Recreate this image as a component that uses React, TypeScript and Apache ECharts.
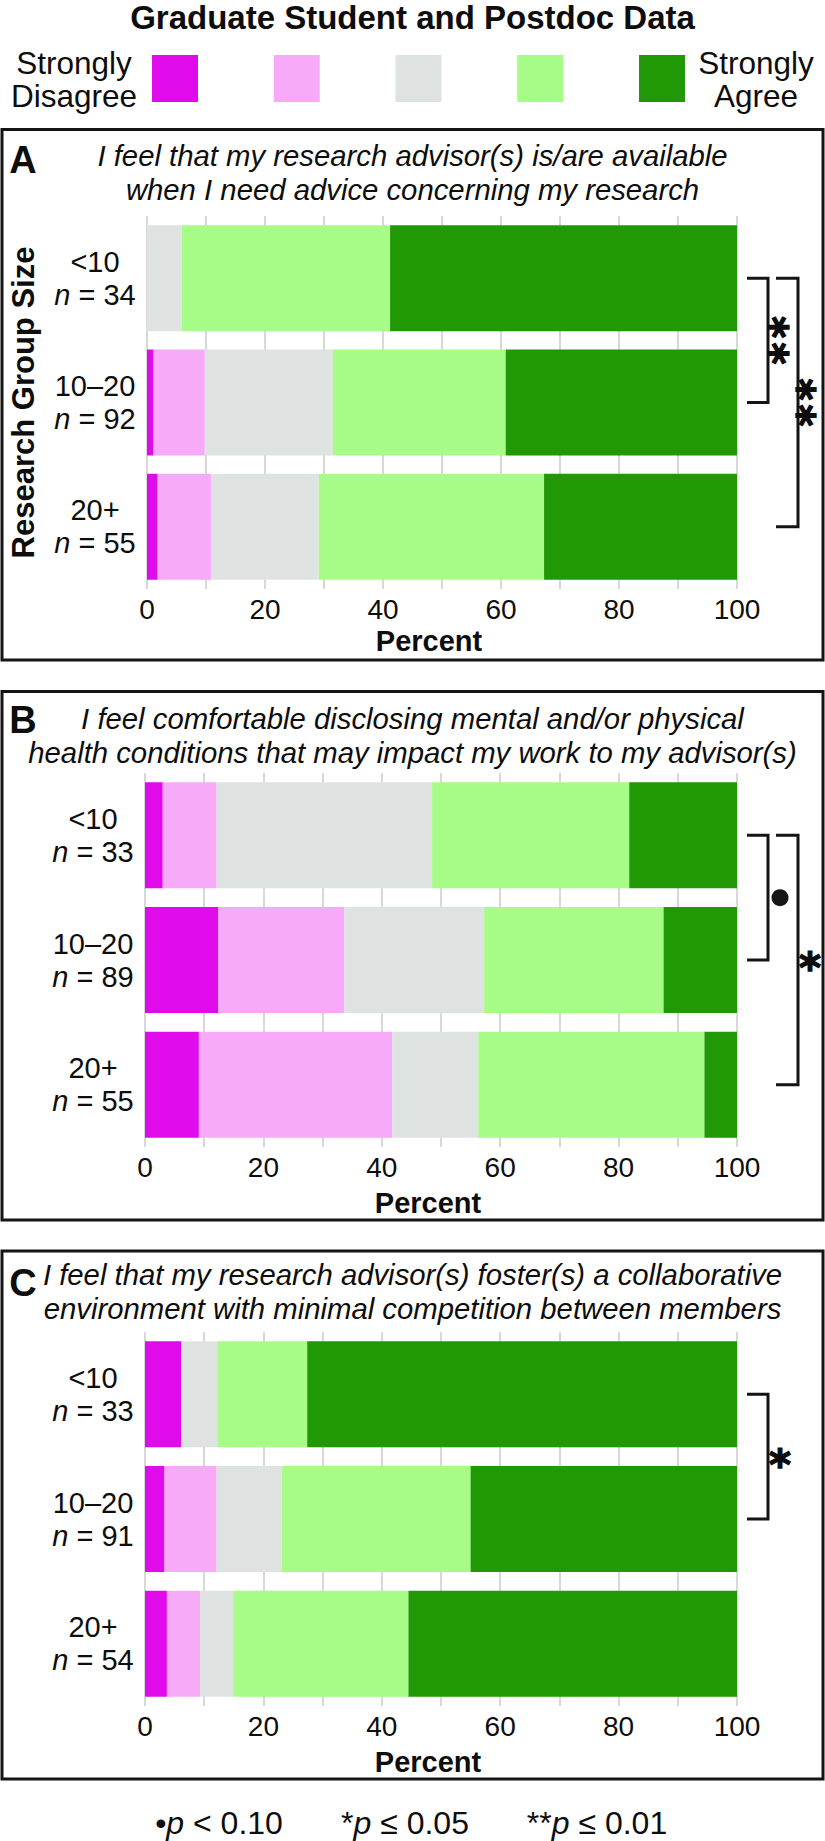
import React, { useEffect, useRef } from "react";
import * as echarts from "echarts";

// ---------- data ----------
const categories = ["<10", "10–20", "20+"];
const responseLevels = ["Strongly Disagree", "Disagree", "Neutral", "Agree", "Strongly Agree"];
const levelColors = ["#E00BEB", "#F7AAF7", "#DEE2E0", "#A6FC86", "#219805"];
const xTickLabels = [0, 20, 40, 60, 80, 100];

// Panel A: advisor available (percent of respondents, groups <10, 10–20, 20+)
const nA = [34, 92, 55];
const aStronglyDisagree = [0, 1.1, 1.8];
const aDisagree = [0, 8.7, 9.1];
const aNeutral = [5.9, 21.7, 18.2];
const aAgree = [35.3, 29.3, 38.2];
const aStronglyAgree = [58.8, 39.2, 32.7];

// Panel B: comfortable disclosing health conditions
const nB = [33, 89, 55];
const bStronglyDisagree = [3.0, 12.4, 9.1];
const bDisagree = [9.1, 21.3, 32.7];
const bNeutral = [36.4, 23.6, 14.5];
const bAgree = [33.3, 30.3, 38.2];
const bStronglyAgree = [18.2, 12.4, 5.5];

// Panel C: collaborative environment
const nC = [33, 91, 54];
const cStronglyDisagree = [6.1, 3.3, 3.7];
const cDisagree = [0, 8.8, 5.6];
const cNeutral = [6.1, 11.0, 5.6];
const cAgree = [15.2, 31.9, 29.6];
const cStronglyAgree = [72.6, 45.0, 55.5];

const panelLetters = ["A", "B", "C"];
const panelTitles = [
  "I feel that my research advisor(s) is/are available\nwhen I need advice concerning my research",
  "I feel comfortable disclosing mental and/or physical\nhealth conditions that may impact my work to my advisor(s)",
  "I feel that my research advisor(s) foster(s) a collaborative\nenvironment with minimal competition between members",
];

// significance brackets: category index from/to, mark, nesting level
const sigA = [
  { from: 0, to: 1, mark: "**", level: 0 },
  { from: 0, to: 2, mark: "**", level: 1 },
];
const sigB = [
  { from: 0, to: 1, mark: "•", level: 0 },
  { from: 0, to: 2, mark: "*", level: 1 },
];
const sigC = [{ from: 0, to: 1, mark: "*", level: 0 }];

const legendLeftLines = ["Strongly", "Disagree"];
const legendRightLines = ["Strongly", "Agree"];
const footnotes = ["{r|•}{i|p}{r| < 0.10}", "{r|*}{i|p}{r| ≤ 0.05}", "{r|**}{i|p}{r| ≤ 0.01}"];

// ---------- layout ----------
const FONT = '"Liberation Sans", Arial, Helvetica, sans-serif';
const STAR_FONT = '"DejaVu Sans", "Liberation Sans", sans-serif';
const INK = "#0d0d0d";
const PAGE_W = 825;
const GRID_LEFT = 145;
const GRID_WIDTH = 592;
const gridTops = [216, 773, 1332];
const gridHeights = [373, 374, 374];
const nameGaps = [37, 41, 41];
const titleTops = [138, 701, 1257];
const letterYs = [160, 720, 1283];
const boxes = [
  { y: 129.5, h: 530.5 },
  { y: 691.5, h: 528.5 },
  { y: 1251, h: 528 },
];
const footnoteXs = [219, 405, 597];
const STAR_SIZE = 42;

const panelData = [
  { n: nA, series: [aStronglyDisagree, aDisagree, aNeutral, aAgree, aStronglyAgree], sig: sigA },
  { n: nB, series: [bStronglyDisagree, bDisagree, bNeutral, bAgree, bStronglyAgree], sig: sigB },
  { n: nC, series: [cStronglyDisagree, cDisagree, cNeutral, cAgree, cStronglyAgree], sig: sigC },
];

function buildOption(): any {
  const grid = panelData.map((_, p) => ({
    left: GRID_LEFT,
    width: GRID_WIDTH,
    top: gridTops[p],
    height: gridHeights[p],
    containLabel: false,
  }));

  const xAxis = panelData.map((_, p) => ({
    type: "value",
    gridIndex: p,
    min: 0,
    max: 100,
    interval: 10,
    axisLine: { show: false },
    axisTick: { show: false },
    splitLine: { show: true, lineStyle: { color: "#D6D9D7", width: 2 } },
    axisLabel: {
      margin: 6,
      fontSize: 28,
      fontFamily: FONT,
      color: INK,
      formatter: (v: number) => (xTickLabels.indexOf(v) >= 0 ? String(v) : ""),
    },
    name: "Percent",
    nameLocation: "middle",
    nameGap: nameGaps[p],
    nameTextStyle: {
      fontSize: 29,
      fontWeight: "bold",
      fontFamily: FONT,
      color: INK,
      padding: [0, 26, 0, 0],
    },
  }));

  const yAxis = panelData.map((pd, p) => {
    const ax: any = {
      type: "category",
      gridIndex: p,
      data: categories,
      inverse: true,
      axisLine: { show: false },
      axisTick: { show: false },
      splitLine: { show: false },
      axisLabel: {
        margin: 52,
        align: "center",
        formatter: (v: string, idx: number) => `{c|${v}}\n{i|n}{c| = ${pd.n[idx]}}`,
        rich: {
          c: { fontSize: 29, fontFamily: FONT, color: INK, lineHeight: 33 },
          i: { fontSize: 29, fontFamily: FONT, color: INK, lineHeight: 33, fontStyle: "italic" },
        },
      },
    };
    if (p === 0) {
      ax.name = "Research Group Size";
      ax.nameLocation = "middle";
      ax.nameRotate = 90;
      ax.nameGap = 108;
      ax.nameTextStyle = { fontSize: 31, fontWeight: "bold", fontFamily: FONT, color: INK };
    }
    return ax;
  });

  const series: any[] = [];
  panelData.forEach((pd, p) => {
    pd.series.forEach((vals, k) => {
      series.push({
        type: "bar",
        name: responseLevels[k],
        stack: "panel" + p,
        xAxisIndex: p,
        yAxisIndex: p,
        data: vals,
        barWidth: 106,
        itemStyle: { color: levelColors[k] },
        emphasis: { disabled: true },
      });
    });
  });

  const title: any[] = [
    {
      text: "Graduate Student and Postdoc Data",
      left: "center",
      top: 0,
      padding: 0,
      textStyle: { fontSize: 33, fontWeight: "bold", fontFamily: FONT, color: INK, lineHeight: 34 },
    },
  ];
  panelTitles.forEach((t, p) => {
    title.push({
      text: t,
      left: "center",
      top: titleTops[p],
      padding: 0,
      textStyle: {
        fontSize: 29.3,
        fontStyle: "italic",
        fontWeight: "normal",
        fontFamily: FONT,
        color: INK,
        lineHeight: 34,
      },
    });
  });

  return {
    animation: false,
    backgroundColor: "#ffffff",
    title,
    legend: {
      data: responseLevels,
      left: 152,
      top: 55,
      padding: 0,
      itemWidth: 46,
      itemHeight: 47,
      itemGap: 75.75,
      icon: "rect",
      selectedMode: false,
      formatter: () => "",
      textStyle: { fontSize: 1 },
    },
    grid,
    xAxis,
    yAxis,
    series,
  };
}

function txt(
  text: string,
  x: number,
  y: number,
  size: number,
  weight = "normal",
  style = "normal",
  extra: any = {},
  family = FONT
) {
  return {
    type: "text",
    x,
    y,
    silent: true,
    style: {
      text,
      fill: INK,
      font: `${style} ${weight} ${size}px ${family}`,
      fontSize: size,
      fontWeight: weight,
      fontStyle: style,
      fontFamily: family,
      textAlign: "center",
      textVerticalAlign: "middle",
      align: "center",
      verticalAlign: "middle",
      ...extra,
    },
  };
}

function buildGraphic(chart: any): any[] {
  const els: any[] = [];
  // panel boxes
  boxes.forEach((b) => {
    els.push({
      type: "rect",
      silent: true,
      shape: { x: 2, y: b.y, width: 821, height: b.h },
      style: { fill: "none", stroke: "#141414", lineWidth: 3 },
    });
  });
  // panel letters
  panelLetters.forEach((l, p) => els.push(txt(l, 23, letterYs[p], 38, "bold")));
  // legend end labels (one text per line)
  legendLeftLines.forEach((l, i) => els.push(txt(l, 74, 63 + i * 32.5, 31.5)));
  legendRightLines.forEach((l, i) => els.push(txt(l, 756, 63 + i * 32.5, 31.5)));
  // footnotes
  footnotes.forEach((f, i) => {
    els.push(
      txt(f, footnoteXs[i], 1823, 32, "normal", "normal", {
        rich: {
          r: { fontSize: 32, fontFamily: FONT, fill: INK, color: INK },
          i: { fontSize: 32, fontFamily: FONT, fill: INK, color: INK, fontStyle: "italic" },
        },
      })
    );
  });
  // significance brackets
  const glyphLift = STAR_SIZE * 0.21; // asterisk sits above the middle of its line box
  const halfBox = STAR_SIZE * 0.585;
  const starExtra = { stroke: INK, lineWidth: 1.4 };
  panelData.forEach((pd, p) => {
    const xEnd = chart.convertToPixel({ xAxisIndex: p }, 100);
    pd.sig.forEach((s) => {
      const y1 = chart.convertToPixel({ yAxisIndex: p }, categories[s.from]);
      const y2 = chart.convertToPixel({ yAxisIndex: p }, categories[s.to]);
      const x0 = xEnd + (s.level === 0 ? 10 : 39);
      const x1 = xEnd + (s.level === 0 ? 31 : 61);
      els.push({
        type: "polyline",
        silent: true,
        shape: { points: [[x0, y1], [x1, y1], [x1, y2], [x0, y2]] },
        style: { fill: "none", stroke: "#141414", lineWidth: 3 },
      });
      const mx = x1 + 12;
      const my = (y1 + y2) / 2;
      if (s.mark === "•") {
        els.push({ type: "circle", silent: true, shape: { cx: mx, cy: my, r: 8.5 }, style: { fill: "#141414" } });
      } else if (s.mark.length > 1) {
        // stacked stars: one text turned a quarter clockwise, kept inside the page
        const ax = Math.min(mx - glyphLift, PAGE_W - halfBox - 1.5);
        const el: any = txt(s.mark.split("").join("\u200A"), ax, my, STAR_SIZE, "bold", "normal", starExtra, STAR_FONT);
        el.rotation = -Math.PI / 2;
        els.push(el);
      } else {
        els.push(txt(s.mark, mx, my + glyphLift, STAR_SIZE, "bold", "normal", starExtra, STAR_FONT));
      }
    });
  });
  return els;
}

export default function App() {
  const ref = useRef<HTMLDivElement | null>(null);
  useEffect(() => {
    if (!ref.current) return;
    const chart = echarts.init(ref.current, null, { renderer: "svg" });
    chart.setOption(buildOption());
    chart.setOption({ graphic: buildGraphic(chart) });
    return () => chart.dispose();
  }, []);
  return (
    <div
      ref={ref}
      style={{ position: "absolute", left: 0, top: 0, width: 825, height: 1841, background: "#fff" }}
    />
  );
}
